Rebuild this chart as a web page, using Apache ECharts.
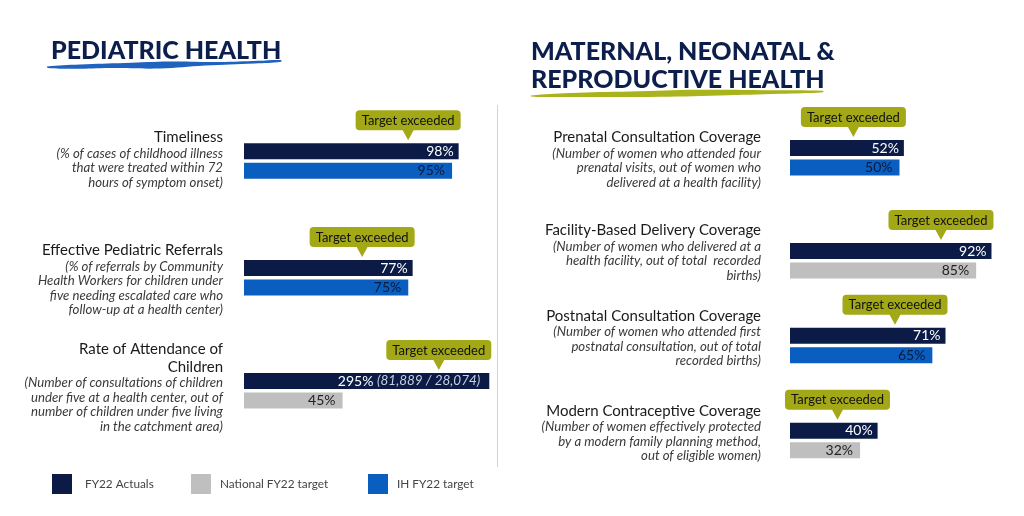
<!DOCTYPE html>
<html>
<head>
<meta charset="utf-8">
<script src="https://cdn.jsdelivr.net/npm/echarts@6/dist/echarts.min.js"></script>
<style>
html,body{margin:0;padding:0;background:#fff;}
#c{width:1024px;height:516px;}
</style>
</head>
<body>
<div id="c"></div>
<script>
// ---- data ----
const indicators = [
  'Timeliness',
  'Effective Pediatric Referrals',
  'Rate of Attendance of\nChildren',
  'Prenatal Consultation Coverage',
  'Facility-Based Delivery Coverage',
  'Postnatal Consultation Coverage',
  'Modern Contraceptive Coverage'
];
const descriptions = [
  '(% of cases of childhood illness\nthat were treated within 72\nhours of symptom onset)',
  '(% of referrals by Community\nHealth Workers for children under\nfive needing escalated care who\nfollow-up at a health center)',
  '(Number of consultations of children\nunder five at a health center, out of\nnumber of children under five living\nin the catchment area)',
  '(Number of women who attended four\nprenatal visits, out of women who\ndelivered at a health facility)',
  '(Number of women who delivered at a\nhealth facility, out of total  recorded\nbirths)',
  '(Number of women who attended first\npostnatal consultation, out of total\nrecorded births)',
  '(Number of women effectively protected\nby a modern family planning method,\nout of eligible women)'
];
const actuals = [98, 77, 295, 52, 92, 71, 40];
const targets = [95, 75, 45, 50, 85, 65, 32];
const targetTypes = ['IH', 'IH', 'National', 'IH', 'National', 'IH', 'National'];
const actualNotes = ['', '', '(81,889 / 28,074)', '', '', '', ''];
const calloutText = 'Target exceeded';
const legendNames = ['FY22 Actuals', 'National FY22 target', 'IH FY22 target'];

// ---- layout / style ----
const NAVY = '#0b1b46', BLUE = '#0a5ebf', GREY = '#bfbfbf', OLIVE = '#a3a816';
const FONT = 'Lato, "Noto Sans", sans-serif';
const layout = [
  {left: 244, width: 245.3, max: 112, top: 141.5, textX: 223, textY: 128.5},
  {left: 244, width: 245.3, max: 112, top: 258.3, textX: 223, textY: 241.5},
  {left: 244, width: 245.3, max: 112, top: 371.3, textX: 223, textY: 340.5},
  {left: 790, width: 219, max: 100, top: 138.3, textX: 761, textY: 128.8},
  {left: 790, width: 219, max: 100, top: 241.3, textX: 761, textY: 221.5},
  {left: 790, width: 219, max: 100, top: 326, textX: 761, textY: 307.2},
  {left: 790, width: 219, max: 100, top: 421, textX: 761, textY: 402.2}
];

const grids = [], xAxes = [], yAxes = [], series = [];
layout.forEach((L, i) => {
  grids.push({left: L.left, top: L.top, width: L.width, height: 39, containLabel: false});
  xAxes.push({type: 'value', gridIndex: i, min: 0, max: L.max, show: false});
  yAxes.push({type: 'category', gridIndex: i, data: ['a', 't'], inverse: true, show: false});
  const note = actualNotes[i];
  series.push({
    name: legendNames[0], type: 'bar', xAxisIndex: i, yAxisIndex: i,
    barWidth: 16, barGap: '-100%', clip: true,
    data: [actuals[i], '-'],
    itemStyle: {color: NAVY},
    label: {
      show: true, position: 'insideRight', distance: note ? 9 : 5,
      formatter: p => note ? `{v|${p.value}%} {n|${note}}` : `${p.value}%`,
      color: '#ffffff', fontFamily: FONT, fontSize: 14,
      rich: {
        v: {color: '#ffffff', fontFamily: FONT, fontSize: 14},
        n: {color: '#c9cee0', fontFamily: FONT, fontSize: 13.5, fontStyle: 'italic'}
      }
    }
  });
  const isIH = targetTypes[i] === 'IH';
  series.push({
    name: isIH ? legendNames[2] : legendNames[1], type: 'bar', xAxisIndex: i, yAxisIndex: i,
    barWidth: 16, barGap: '-100%',
    data: ['-', targets[i]],
    itemStyle: {color: isIH ? BLUE : GREY},
    label: {
      show: true, position: 'insideRight', distance: 7,
      formatter: p => `${p.value}%`,
      color: isIH ? '#0a1a3c' : '#222222', fontFamily: FONT, fontSize: 14
    }
  });
});

const legendPos = [47, 186, 363];
const legendPad = [5, 1, 1];
const legends = legendNames.map((n, k) => ({
  data: [n], left: legendPos[k], top: 469, orient: 'horizontal',
  icon: 'rect', itemWidth: 20, itemHeight: 20, selectedMode: false,
  textStyle: {fontFamily: FONT, fontSize: 11.8, color: '#444', padding: [0, 0, 0, legendPad[k] + 3]}
}));

const chart = echarts.init(document.getElementById('c'), null, {renderer: 'canvas'});
const option = {
  backgroundColor: '#ffffff',
  animation: false,
  grid: grids, xAxis: xAxes, yAxis: yAxes, series: series,
  legend: legends
};
chart.setOption(option);

// ---- annotations ----
const graphics = [];
// section titles
graphics.push({type: 'polygon', shape: {smooth: 0.4, points: [[47,66.5],[80,64.5],[125,63],[170,61.5],[220,62],[258,60.8],[281,60],[281,61.8],[255,63.5],[205,65.5],[160,68.5],[110,68],[75,68.8],[48,68]]}, style: {fill: '#1f63bf'}});
graphics.push({type: 'polygon', shape: {smooth: 0.4, points: [[531,95.5],[570,93],[630,91.5],[700,89.8],[770,90.2],[823,90.8],[823,92.2],[780,93.8],[720,95.5],[650,97],[590,97],[545,97],[531,96.5]]}, style: {fill: '#a9b31c'}});
const TITLE_FONT = `900 25px ${FONT}`;
graphics.push({type: 'text', x: 51, y: 50.5, style: {text: 'PEDIATRIC HEALTH', fill: '#0c1e4b', font: TITLE_FONT, textAlign: 'left', align: 'left', textVerticalAlign: 'middle', verticalAlign: 'middle'}});
graphics.push({type: 'text', x: 531, y: 51.5, style: {text: 'MATERNAL, NEONATAL &', fill: '#0c1e4b', font: TITLE_FONT, textAlign: 'left', align: 'left', textVerticalAlign: 'middle', verticalAlign: 'middle'}});
graphics.push({type: 'text', x: 531, y: 80, style: {text: 'REPRODUCTIVE HEALTH', fill: '#0c1e4b', font: TITLE_FONT, textAlign: 'left', align: 'left', textVerticalAlign: 'middle', verticalAlign: 'middle'}});
// divider
graphics.push({type: 'line', shape: {x1: 497.5, y1: 105, x2: 497.5, y2: 467}, style: {stroke: '#d2d2d2', lineWidth: 1}});

layout.forEach((L, i) => {
  // indicator text
  const titleLines = indicators[i].split('\n').map(s => `{t|${s}}`);
  const descLines = descriptions[i].split('\n').map(s => `{s|${s}}`);
  graphics.push({
    type: 'text', x: L.textX, y: L.textY,
    style: {
      text: titleLines.concat(descLines).join('\n'),
      textAlign: 'right', align: 'right', textVerticalAlign: 'top', verticalAlign: 'top',
      rich: {
        t: {fontFamily: FONT, fontSize: 15, fill: '#1a1a1a', lineHeight: 17.5, align: 'right'},
        s: {fontFamily: FONT, fontSize: 13.2, fontStyle: 'italic', fill: '#3a3a3a', lineHeight: 14.6, align: 'right'}
      }
    }
  });
  // callout
  const startPx = chart.convertToPixel({gridIndex: i}, [0, 0]);
  const endPx = chart.convertToPixel({gridIndex: i}, [Math.min(actuals[i], L.max), 0]);
  const barTop = startPx[1] - 8;
  const W = 105, H = 20;
  const right = Math.max(endPx[0] + 2, startPx[0] - 5 + W);
  const cx = W / 2;
  graphics.push({
    type: 'group', x: right - W, y: barTop - 33,
    children: [
      {type: 'rect', shape: {x: 0, y: 0, width: W, height: H, r: 4}, style: {fill: OLIVE}},
      {type: 'polygon', shape: {points: [[cx - 6, H - 1], [cx + 6, H - 1], [cx, H + 10]]}, style: {fill: OLIVE}},
      {type: 'text', x: cx, y: H / 2 + 0.5, style: {text: calloutText, fill: '#111111', font: `13px ${FONT}`, textAlign: 'center', align: 'center', textVerticalAlign: 'middle', verticalAlign: 'middle'}}
    ]
  });
});

chart.setOption({graphic: {elements: graphics}});
</script>
</body>
</html>
